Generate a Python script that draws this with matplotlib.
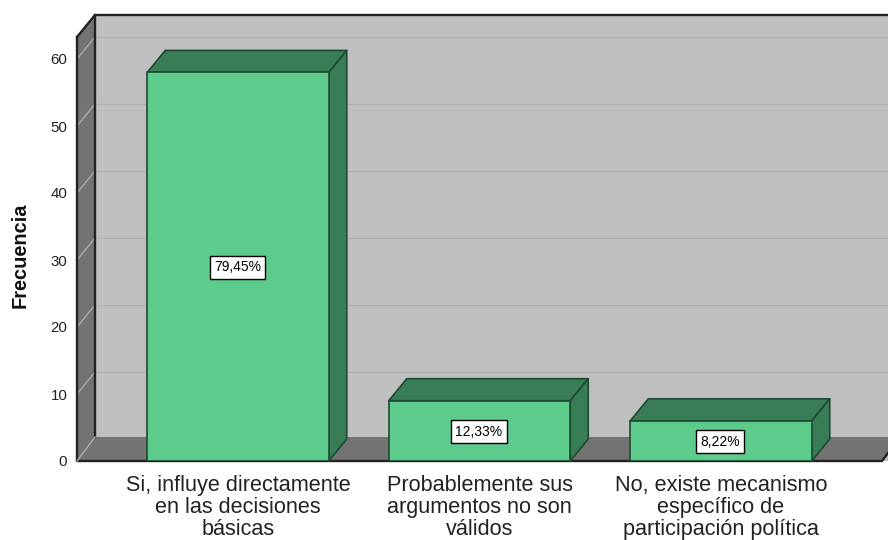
import matplotlib
matplotlib.use("Agg")
import matplotlib.pyplot as plt
from matplotlib.patches import Polygon

plt.rcParams['font.family'] = ['Liberation Sans', 'DejaVu Sans']

categories = ["Si, influye directamente\nen las decisiones\nbásicas",
              "Probablemente sus\nargumentos no son\nválidos",
              "No, existe mecanismo\nespecífico de\nparticipación política"]
frequencies = [58, 9, 6]
percent_labels = ["79,45%", "12,33%", "8,22%"]
y_ticks = [0, 10, 20, 30, 40, 50, 60]

W, H = 888, 540
fig = plt.figure(figsize=(W / 100, H / 100), dpi=100, facecolor="white")
L, R, T, B = 77, 882, 37, 461
ax = fig.add_axes([L / W, 1 - B / H, (R - L) / W, (B - T) / H])
ax.set_xlim((L - 238) / 241.5, (R - 238) / 241.5)
ax.set_ylim(0, (B - T) / 6.7)
xmin, xmax = ax.get_xlim()
ymin, ymax = ax.get_ylim()
DX, DY = 18 / 241.5, 22 / 6.7
FLOOR_DY = 24 / 6.7
BW = 181.5 / 241.5

ax.patch.set_visible(False)
for s in ax.spines.values():
    s.set_visible(False)

def poly(pts, fc, ec="none", lw=0, z=1):
    ax.add_patch(Polygon(pts, closed=True, fc=fc, ec=ec, lw=lw, zorder=z, clip_on=False, joinstyle="round"))

EDGE = "#222222"
WALL, SIDE = "#BFBFBF", "#737373"
# back wall, side wall, floor
poly([(xmin + DX, 0), (xmax + DX, 0), (xmax + DX, ymax + DY), (xmin + DX, ymax + DY)], WALL)
poly([(xmin, 0), (xmin + DX, FLOOR_DY), (xmin + DX, ymax + DY), (xmin, ymax)], SIDE)
poly([(xmin, 0), (xmax, 0), (xmax + DX, FLOOR_DY), (xmin + DX, FLOOR_DY)], SIDE)

# grid lines
for v in y_ticks[1:]:
    ax.plot([xmin + DX, xmax + DX], [v + DY, v + DY], color="#B0B0B0", lw=1.0, zorder=2, clip_on=False)
for v in y_ticks[1:]:
    ax.plot([xmin, xmin + DX], [v, v + DY], color="#ABABAB", lw=1.0, zorder=2, clip_on=False)

# frame
ax.plot([xmin, xmin, xmax, xmax + DX], [ymax, 0, 0, FLOOR_DY], color=EDGE, lw=1.7, zorder=3, clip_on=False, solid_joinstyle="miter")
ax.plot([xmin, xmin + DX, xmax + DX], [ymax, ymax + DY, ymax + DY], color=EDGE, lw=1.7, zorder=3, clip_on=False)
ax.plot([xmin + DX, xmin + DX], [FLOOR_DY, ymax + DY], color=EDGE, lw=1.7, zorder=3, clip_on=False)
ax.plot([xmin, xmin + DX], [0, FLOOR_DY], color="#ABABAB", lw=1.0, zorder=3, clip_on=False)

# bars
FRONT, DARK, BEDGE = "#5DCB8B", "#387D55", "#1E4A33"
positions = list(range(len(frequencies)))
ax.bar(positions, frequencies, width=BW, color=FRONT, edgecolor=BEDGE, linewidth=1.2, zorder=6)
for i, v in zip(positions, frequencies):
    x0, x1 = i - BW / 2, i + BW / 2
    poly([(x0, v), (x1, v), (x1 + DX, v + DY), (x0 + DX, v + DY)], DARK, BEDGE, 1.2, 5)
    poly([(x1, 0), (x1 + DX, DY), (x1 + DX, v + DY), (x1, v)], DARK, BEDGE, 1.2, 5)

for i, v, t in zip(positions, frequencies, percent_labels):
    ax.text(i - 0.003, v / 2 - 0.1, t, ha="center", va="center", fontsize=10, color="black", zorder=8,
            bbox=dict(boxstyle="square,pad=0.3", fc="white", ec="black", lw=1))

ax.set_xticks(positions, categories, fontsize=15.6, color="#222222", linespacing=1.06)
ax.set_yticks(y_ticks, [str(v) for v in y_ticks], fontsize=10.8, color="#222222")
ax.tick_params(axis="both", length=0)
ax.tick_params(axis="x", pad=10)
ax.tick_params(axis="y", pad=7)
fig.text(20 / W, 1 - 255 / H, "Frecuencia", rotation=90, ha="center", va="center",
         fontsize=14.4, fontweight="bold", color="#111111")

fig.savefig("out.png", dpi=100, facecolor="white")
